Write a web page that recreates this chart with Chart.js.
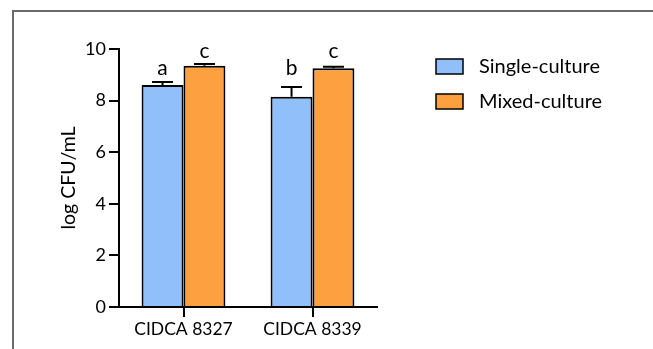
<!DOCTYPE html>
<html>
<head>
<meta charset="utf-8">
<script src="https://cdn.jsdelivr.net/npm/chart.js@4"></script>
<style>
  html, body { margin: 0; padding: 0; background: #fff; }
  #wrap { position: relative; width: 653px; height: 349px; overflow: hidden; }
  #frame { position: absolute; left: 12px; top: 10px; width: 700px; height: 400px;
           border-top: 2px solid #6b6b6b; border-left: 2px solid #6b6b6b; }
  canvas { position: absolute; left: 0; top: 0; }
</style>
</head>
<body>
<div id="wrap">
  <div id="frame"></div>
  <canvas id="chart" width="653" height="349"></canvas>
</div>
<script>
// data
const strains = ['CIDCA 8327', 'CIDCA 8339'];
const singleCulture = [8.60, 8.15];
const mixedCulture = [9.35, 9.25];
const singleErr = [0.12, 0.38];
const mixedErr = [0.07, 0.06];
const singleLetters = ['a', 'b'];
const mixedLetters = ['c', 'c'];
const singleLetterPos = [8.98, 8.98];
const mixedLetterPos = [9.64, 9.64];
const yTicks = [0, 2, 4, 6, 8, 10];

const FONT = 'Lato, "Open Sans", sans-serif';

const errorBars = {
  id: 'errorBars',
  afterDatasetsDraw(chart) {
    const ctx = chart.ctx;
    const y = chart.scales.y;
    chart.data.datasets.forEach((ds, i) => {
      const meta = chart.getDatasetMeta(i);
      meta.data.forEach((bar, j) => {
        const top = y.getPixelForValue(ds.data[j] + ds.errors[j]);
        const base = y.getPixelForValue(ds.data[j]);
        ctx.save();
        ctx.strokeStyle = '#000';
        ctx.lineWidth = 2;
        ctx.beginPath();
        ctx.moveTo(bar.x, base);
        ctx.lineTo(bar.x, top);
        ctx.moveTo(bar.x - 10.5, top);
        ctx.lineTo(bar.x + 10.5, top);
        ctx.stroke();
        ctx.fillStyle = '#000';
        ctx.font = '21px ' + FONT;
        ctx.textAlign = 'center';
        ctx.textBaseline = 'alphabetic';
        ctx.fillText(ds.letters[j], bar.x, y.getPixelForValue(ds.letterPos[j]));
        ctx.restore();
      });
    });
  }
};

const sideLegend = {
  id: 'sideLegend',
  afterDraw(chart) {
    const ctx = chart.ctx;
    chart.data.datasets.forEach((ds, i) => {
      const top = 59 + i * 35;
      ctx.save();
      ctx.fillStyle = ds.backgroundColor;
      ctx.fillRect(436, top, 27, 15);
      ctx.strokeStyle = '#000';
      ctx.lineWidth = 1.5;
      ctx.strokeRect(436, top, 27, 15);
      ctx.fillStyle = '#000';
      ctx.font = '20px ' + FONT;
      ctx.textBaseline = 'middle';
      ctx.fillText(ds.label, 479, top + 8);
      ctx.restore();
    });
  }
};

new Chart(document.getElementById('chart'), {
  type: 'bar',
  data: {
    labels: strains,
    datasets: [
      {
        label: 'Single-culture',
        data: singleCulture,
        errors: singleErr,
        letters: singleLetters,
        letterPos: singleLetterPos,
        backgroundColor: '#90bff9',
        borderColor: '#000',
        borderWidth: 2,
        borderSkipped: 'start',
        barPercentage: 1.0,
        categoryPercentage: 0.65
      },
      {
        label: 'Mixed-culture',
        data: mixedCulture,
        errors: mixedErr,
        letters: mixedLetters,
        letterPos: mixedLetterPos,
        backgroundColor: '#fda040',
        borderColor: '#000',
        borderWidth: 2,
        borderSkipped: 'start',
        barPercentage: 1.0,
        categoryPercentage: 0.65
      }
    ]
  },
  options: {
    responsive: false,
    animation: false,
    layout: { padding: { left: 0, right: 276, top: 49, bottom: 0 } },
    plugins: {
      legend: { display: false },
      tooltip: { enabled: false }
    },
    scales: {
      x: {
        afterFit(s) { s.height = 42; },
        border: { color: '#000', width: 2 },
        grid: { drawOnChartArea: false, color: '#000', lineWidth: 2, tickLength: 10, offset: false },
        ticks: { color: '#000', font: { family: FONT, size: 17.5 }, padding: 2 }
      },
      y: {
        min: 0,
        max: 10,
        afterFit(s) { s.width = 119; },
        afterBuildTicks(s) { s.ticks = yTicks.map(v => ({ value: v })); },
        border: { color: '#000', width: 2 },
        grid: { drawOnChartArea: false, color: '#000', lineWidth: 2, tickLength: 10 },
        ticks: { color: '#000', font: { family: FONT, size: 18 }, padding: 3 },
        title: {
          display: true,
          text: 'log CFU/mL',
          color: '#000',
          font: { family: FONT, size: 19.5 },
          padding: { top: 57, bottom: 0 }
        }
      }
    }
  },
  plugins: [errorBars, sideLegend]
});
</script>
</body>
</html>
